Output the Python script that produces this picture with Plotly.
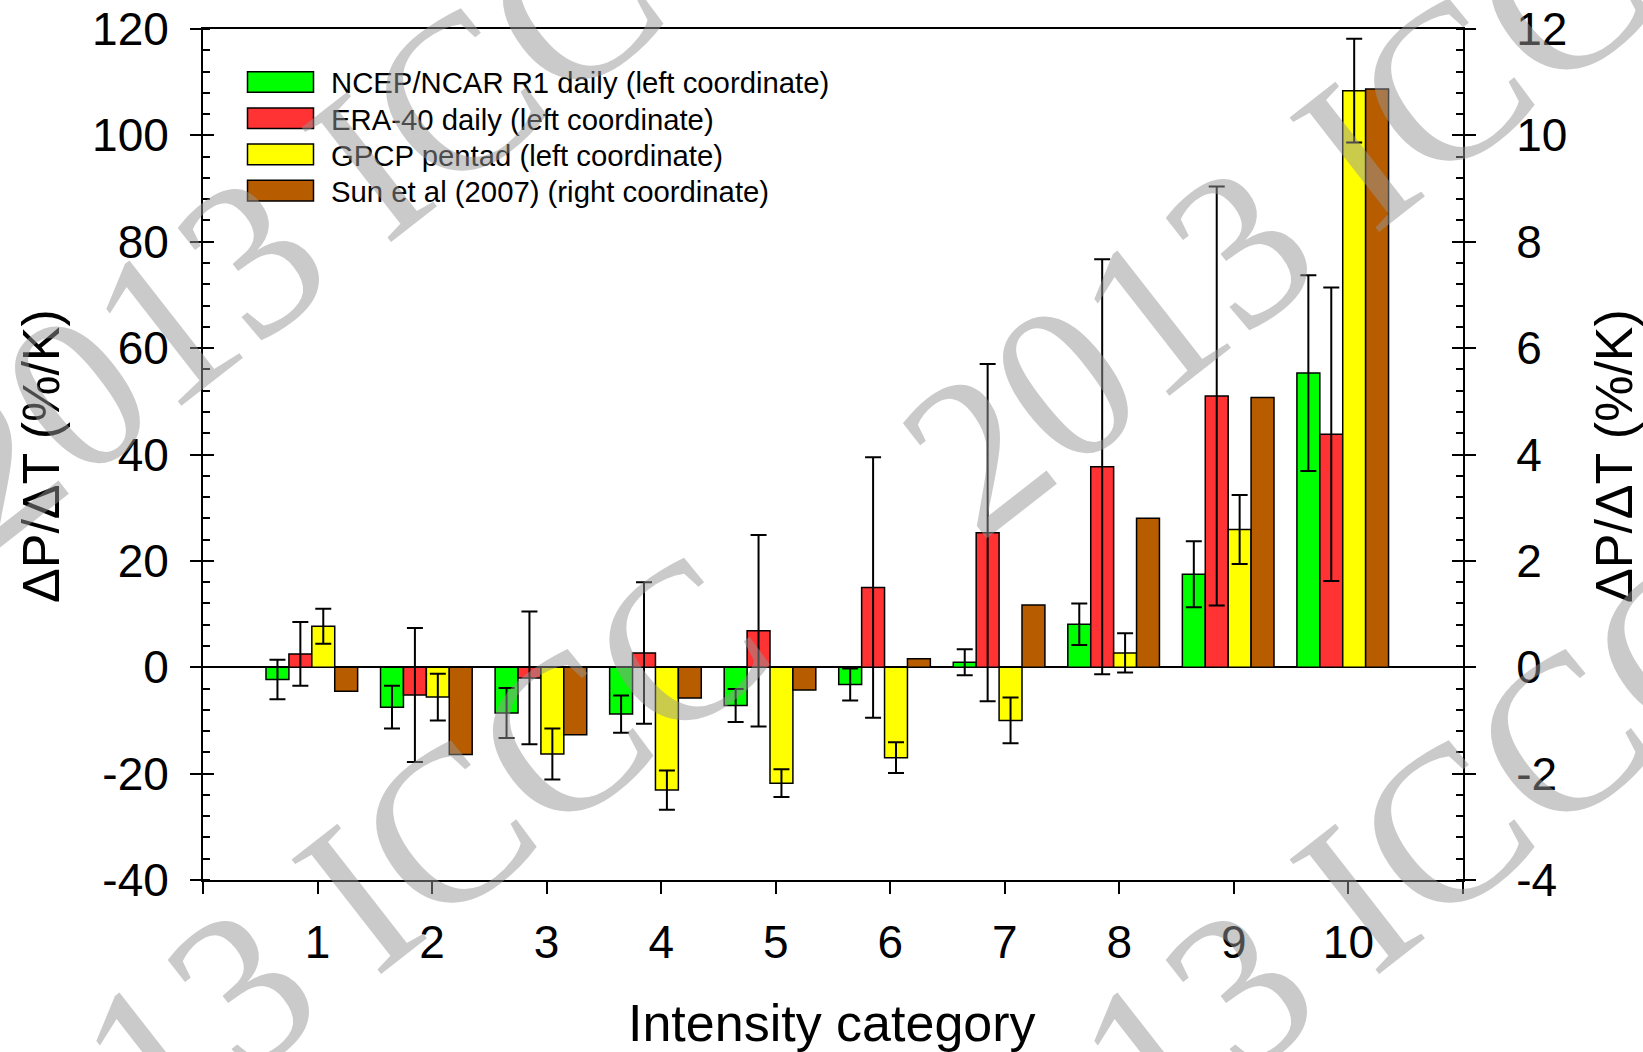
import plotly.graph_objects as go

# ---------------- data ----------------
categories = [1, 2, 3, 4, 5, 6, 7, 8, 9, 10]
ncep = [-2.3, -7.5, -8.6, -8.8, -7.2, -3.25, 0.95, 8.1, 17.5, 55.3]
ncep_err = [3.7, 4.0, 4.7, 3.5, 3.1, 3.0, 2.45, 3.9, 6.2, 18.4]
era = [2.5, -5.2, -2.0, 2.7, 6.85, 15.0, 25.3, 37.7, 51.0, 43.8]
era_err = [6.0, 12.6, 12.5, 13.3, 18.0, 24.5, 31.7, 39.0, 39.4, 27.6]
gpcp = [7.7, -5.6, -16.3, -23.1, -21.8, -17.0, -10.0, 2.7, 25.9, 108.4]
gpcp_err = [3.3, 4.4, 4.8, 3.7, 2.6, 2.9, 4.3, 3.7, 6.5, 9.75]
sun = [-0.45, -1.64, -1.27, -0.58, -0.43, 0.16, 1.17, 2.80, 5.07, 10.87]

series_names = [
    "NCEP/NCAR R1 daily (left coordinate)",
    "ERA-40 daily (left coordinate)",
    "GPCP pentad (left coordinate)",
    "Sun et al (2007) (right coordinate)",
]
series_colors = ["#00ff00", "#ff3333", "#ffff00", "#b85c00"]
left_ticks = [-40, -20, 0, 20, 40, 60, 80, 100, 120]
left_ticktext = ["-40", "-20", "0", "20", "40", "60", "80", "100", "120"]
right_ticks = [-4, -2, 0, 2, 4, 6, 8, 10, 12]
right_ticktext = ["-4", "-2", "0", "2", "4", "6", "8", "10", "12"]
x_tickvals = list(range(0, 12))
x_ticktext = [""] + [str(c) for c in categories] + [""]
watermark_text = "2013 ICCC"

# ---------------- geometry helpers (pixels -> paper) ----------------
W, H = 1643, 1052
ML, MR, MT, MB = 203, 180, 29, 172
PW, PH = W - ML - MR, H - MT - MB


def px(x):
    return (x - ML) / PW


def py(y):
    return (H - MB - y) / PH


FONT = "Arial, Liberation Sans, sans-serif"
offsets = [-0.45, -0.25, -0.05, 0.15]

fig = go.Figure()
left_series = [(ncep, ncep_err), (era, era_err), (gpcp, gpcp_err)]
for i, (vals, errs) in enumerate(left_series):
    fig.add_trace(go.Bar(
        x=categories, y=vals, name=series_names[i],
        width=0.2, offset=offsets[i],
        marker=dict(color=series_colors[i], line=dict(color="black", width=1.5)),
        error_y=dict(type="data", array=errs, visible=True, color="black",
                     thickness=2, width=8),
        yaxis="y", showlegend=False,
    ))
fig.add_trace(go.Bar(
    x=categories, y=sun, name=series_names[3],
    width=0.2, offset=offsets[3],
    marker=dict(color=series_colors[3], line=dict(color="black", width=1.5)),
    yaxis="y2", showlegend=False,
))
# dummy traces so the extra tick axes are drawn
fig.add_trace(go.Scatter(x=[None], y=[None], yaxis="y3", showlegend=False, hoverinfo="skip"))
fig.add_trace(go.Scatter(x=[None], y=[None], yaxis="y4", showlegend=False, hoverinfo="skip"))

axis_font = dict(family=FONT, size=46, color="black")

fig.update_layout(
    width=W, height=H,
    margin=dict(l=ML, r=MR, t=MT, b=MB, pad=0, autoexpand=False),
    paper_bgcolor="white", plot_bgcolor="white",
    barmode="overlay",
    font=dict(family=FONT, color="black"),
    xaxis=dict(
        range=[0, 11], tickmode="array", tickvals=x_tickvals, ticktext=x_ticktext,
        ticks="outside", ticklen=12, tickwidth=2, tickcolor="black",
        showline=True, linewidth=2, linecolor="black", mirror=True,
        showgrid=False, zeroline=False, tickfont=axis_font,
        ticklabelstandoff=9, automargin=False,
    ),
    yaxis=dict(
        range=[-40, 120], tickmode="array", tickvals=left_ticks, ticktext=left_ticktext,
        ticks="outside", ticklen=11, tickwidth=2, tickcolor="black",
        minor=dict(ticks="inside", ticklen=7, tickwidth=1.5, tickcolor="black",
                   dtick=4, tick0=0, showgrid=False),
        showline=True, linewidth=2, linecolor="black",
        showgrid=False, zeroline=True, zerolinecolor="black", zerolinewidth=2,
        tickfont=axis_font, ticklabelstandoff=12, automargin=False,
    ),
    yaxis2=dict(
        range=[-4, 12], tickmode="array", tickvals=right_ticks, ticktext=right_ticktext,
        overlaying="y", side="right",
        ticks="outside", ticklen=11, tickwidth=2, tickcolor="black",
        minor=dict(ticks="inside", ticklen=7, tickwidth=1.5, tickcolor="black",
                   dtick=0.4, tick0=0, showgrid=False),
        showline=True, linewidth=2, linecolor="black",
        showgrid=False, zeroline=False,
        tickfont=axis_font, ticklabelstandoff=31, automargin=False,
    ),
    yaxis3=dict(
        range=[-40, 120], tickmode="array", tickvals=left_ticks,
        overlaying="y", side="left",
        ticks="inside", ticklen=11, tickwidth=2, tickcolor="black",
        showticklabels=False, showline=False, showgrid=False, zeroline=False,
        automargin=False,
    ),
    yaxis4=dict(
        range=[-4, 12], tickmode="array", tickvals=right_ticks,
        overlaying="y", side="right",
        ticks="inside", ticklen=11, tickwidth=2, tickcolor="black",
        showticklabels=False, showline=False, showgrid=False, zeroline=False,
        automargin=False,
    ),
    showlegend=False,
)

annotations = []
shapes = []

# axis titles
title_font = dict(family=FONT, size=52, color="black")
annotations.append(dict(text="ΔP/ΔT (%/K)", x=px(41), y=py(456), xref="paper", yref="paper",
                        xanchor="center", yanchor="middle", textangle=-90,
                        showarrow=False, font=title_font))
annotations.append(dict(text="ΔP/ΔT (%/K)", x=px(1614), y=py(456), xref="paper", yref="paper",
                        xanchor="center", yanchor="middle", textangle=-90,
                        showarrow=False, font=title_font))
annotations.append(dict(text="Intensity category", x=px(832), y=py(1023), xref="paper", yref="paper",
                        xanchor="center", yanchor="middle",
                        showarrow=False, font=title_font))

# legend (wide swatches as in the original)
row_centers = [82.0, 118.2, 154.4, 190.6]
for name, color, yc in zip(series_names, series_colors, row_centers):
    shapes.append(dict(type="rect", xref="paper", yref="paper",
                       x0=px(247.5), x1=px(313.5), y0=py(yc + 10.3), y1=py(yc - 10.3),
                       fillcolor=color, line=dict(color="black", width=1.5)))
    annotations.append(dict(text=name, x=px(329), y=py(yc + 1), xref="paper", yref="paper",
                            xanchor="left", yanchor="middle", showarrow=False,
                            font=dict(family=FONT, size=29.3, color="black")))

# watermark
for (cx, cy) in [(346, 182), (1334, 172), (336, 914), (1334, 914)]:
    annotations.append(dict(text=watermark_text, x=px(cx), y=py(cy), xref="paper", yref="paper",
                            xanchor="center", yanchor="middle", textangle=-38,
                            showarrow=False,
                            font=dict(family="Liberation Serif, Times New Roman, serif",
                                      size=222, color="rgba(150,150,150,0.5)")))

fig.update_layout(annotations=annotations, shapes=shapes)
fig.write_html("out.html")
